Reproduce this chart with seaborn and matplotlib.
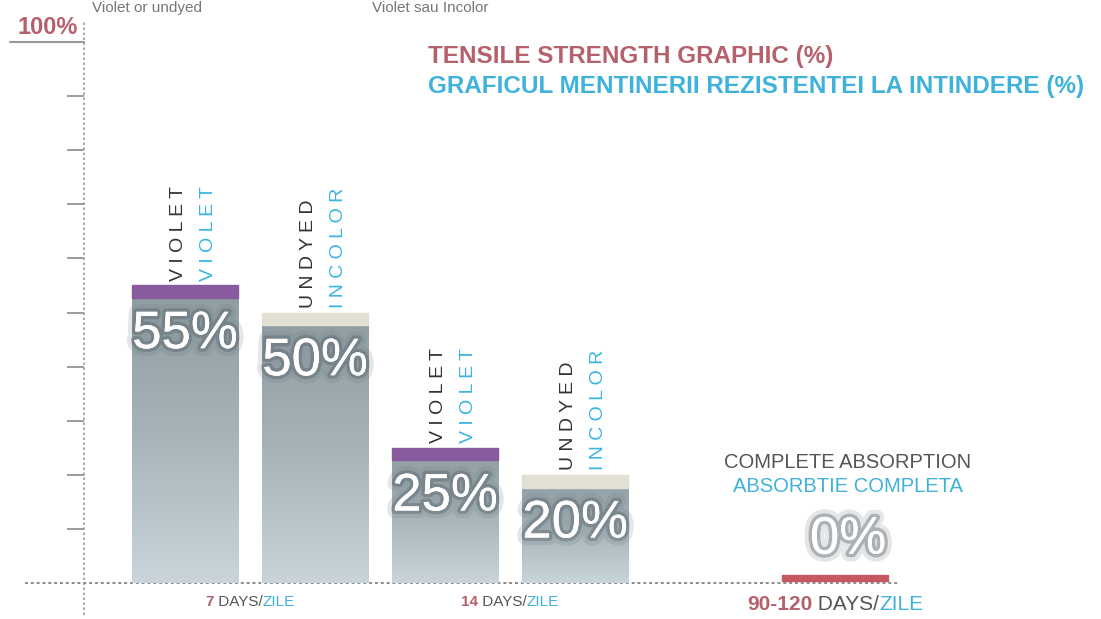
import numpy as np
import pandas as pd
import matplotlib
matplotlib.use("Agg")
import matplotlib.pyplot as plt
import matplotlib.patheffects as pe
from matplotlib.patches import Rectangle
from matplotlib.colors import LinearSegmentedColormap
import seaborn as sns

# Dados
bar_ids = ["7V", "7U", "14V", "14U", "90"]
groups = ["7", "7", "14", "14", "90-120"]
values = [55, 50, 25, 20, 0]
dye = ["violet", "undyed", "violet", "undyed", "none"]
order = ["7V", "7U", "14V", "14U", "gap", "90"]
group_labels = {"7": "7", "14": "14", "90-120": "90-120"}
names_en = {"violet": "VIOLET", "undyed": "UNDYED"}
names_ro = {"violet": "VIOLET", "undyed": "INCOLOR"}

RED = "#b5606b"
CYAN = "#3fb2dc"
GRAY = "#555555"
NARROW = ["Liberation Sans Narrow", "Liberation Sans", "DejaVu Sans"]

df = pd.DataFrame({"bar": bar_ids, "group": groups, "value": values, "dye": dye})

sns.set_style("white")
plt.rcParams["font.family"] = ["Liberation Sans", "DejaVu Sans"]

fig = plt.figure(figsize=(11.01, 6.19), dpi=100)
W, H = 1101, 619
ax = fig.add_axes([84 / W, (H - 583) / H, (900 - 84) / W, (583 - 42) / H])

sns.barplot(data=df, x="bar", y="value", order=order, color="#a9b6bc",
            width=0.82, ax=ax, errorbar=None, saturation=1)

ax.set_ylim(0, 100)
ax.set_xlim(-0.777, 5.5)
for s in ax.spines.values():
    s.set_visible(False)
ax.set_xticks([])
ax.set_xlabel("")
ax.set_ylabel("")
ax.set_yticks(range(10, 100, 10))
ax.set_yticklabels([])
ax.tick_params(axis="y", length=12, width=1.2, color="#8a8a8a", direction="out", left=True)

# eixo pontilhado e linha base
ax.plot([0, 0], [-0.06, 1.04], transform=ax.transAxes, clip_on=False,
        ls=(0, (1.5, 1.5)), color="#9a9a9a", lw=1.2)
ax.plot([-0.072, 1.0], [0, 0], transform=ax.transAxes, clip_on=False,
        ls=(0, (1.5, 1.5)), color="#8a8a8a", lw=1.4)
ax.plot([-0.091, 0], [1, 1], transform=ax.transAxes, clip_on=False,
        color="#9a9a9a", lw=1.5)
ax.text(-0.008, 1.005, "100%", transform=ax.transAxes, ha="right", va="bottom",
        color=RED, fontsize=17, fontweight="bold", family=NARROW)

# gradiente nas barras
cmap = LinearSegmentedColormap.from_list("g", ["#c9d5db", "#a6b3b9", "#8e9ca2"])
grad = np.linspace(0, 1, 256).reshape(-1, 1)
patches = sorted([p for p in ax.patches], key=lambda p: p.get_x())
centers = {}
for p in patches:
    cx = p.get_x() + p.get_width() / 2
    idx = int(round(cx))
    key = order[idx]
    centers[key] = (p.get_x(), p.get_width(), cx)
    h = p.get_height()
    if h > 0:
        im = ax.imshow(grad, cmap=cmap, aspect="auto", origin="lower",
                       extent=[p.get_x(), p.get_x() + p.get_width(), 0, h], zorder=2)
        im.set_clip_path(p)
        p.set_zorder(1)

ax.set_xlim(-0.777, 5.5)
ax.set_ylim(0, 100)

glow = [pe.withStroke(linewidth=11, foreground="#6b777c", alpha=0.18),
        pe.withStroke(linewidth=5, foreground="#56626a", alpha=0.4),
        pe.Normal()]

for b, v, d in zip(bar_ids, values, dye):
    x0, w, cx = centers[b]
    if d == "violet":
        ax.add_patch(Rectangle((x0, v - 2.3), w, 2.3, color="#8a5a9e", zorder=3))
    elif d == "undyed":
        ax.add_patch(Rectangle((x0, v - 2.4), w, 2.4, color="#e2e0d5", zorder=3))
    else:
        ax.add_patch(Rectangle((x0, 0.4), w, 1.0, color="#c55862", zorder=3))
    if d != "none":
        ax.text(cx - 0.05, v + 0.8, " ".join(names_en[d]), rotation=90, ha="center",
                va="bottom", color="#333333", fontsize=14, zorder=4)
        ax.text(cx + 0.18, v + 0.8, " ".join(names_ro[d]), rotation=90, ha="center",
                va="bottom", color="#3ab4e4", fontsize=14, zorder=4)
        ax.text(cx, v - 9, f"{v}%", ha="center", va="center", color="white",
                fontsize=38, family=NARROW, zorder=5, path_effects=glow)
    else:
        ax.text(cx + 0.1, v + 8, f"{v}%", ha="center", va="center", color="white",
                fontsize=38, family=NARROW, zorder=5, path_effects=glow)
        ax.text(cx + 0.1, v + 22.3, "COMPLETE ABSORPTION", ha="center", va="center",
                color=GRAY, fontsize=14.5, family=NARROW)
        ax.text(cx + 0.1, v + 17.8, "ABSORBTIE COMPLETA", ha="center", va="center",
                color=CYAN, fontsize=14.5, family=NARROW)

# rotulos do eixo x (multicolor)
fig.canvas.draw()
firsts = []
for g in ["7", "14", "90-120"]:
    xs = [centers[b][2] for b, gg in zip(bar_ids, groups) if gg == g]
    gx = np.mean(xs)
    big = g == "90-120"
    fs = 15 if big else 11
    t1 = ax.text(gx, -2.3, group_labels[g], ha="left", va="top", color=RED,
                 fontsize=fs, fontweight="bold", family=NARROW)
    t2 = ax.annotate(" DAYS/", xy=(1, 0), xycoords=t1, va="bottom", ha="left",
                     color=GRAY, fontsize=fs, family=NARROW)
    t3 = ax.annotate("ZILE", xy=(1, 0), xycoords=t2, va="bottom", ha="left",
                     color=CYAN, fontsize=fs, family=NARROW)
    firsts.append((t1, t2, t3, gx))

fig.canvas.draw()
r = fig.canvas.get_renderer()
for t1, t2, t3, gx in firsts:
    e1 = t1.get_window_extent(r)
    e3 = t3.get_window_extent(r)
    width_px = e3.x1 - e1.x0
    px_per_unit = ax.transData.transform((1, 0))[0] - ax.transData.transform((0, 0))[0]
    t1.set_x(gx - width_px / 2 / px_per_unit)

# titulo
fig.text(428 / W, 1 - 57 / H, "TENSILE STRENGTH GRAPHIC (%)", color=RED, fontsize=17.5,
         fontweight="bold", family=NARROW, ha="left", va="center")
fig.text(428 / W, 1 - 86 / H, "GRAFICUL MENTINERII REZISTENTEI LA INTINDERE (%)",
         color=CYAN, fontsize=17.5, fontweight="bold", family=NARROW, ha="left", va="center")

# texto do topo (no original aparece cortado)
fig.text(92 / W, 1 - 12 / H, "Violet or undyed", color="#777777", fontsize=11,
         ha="left", va="baseline")
fig.text(372 / W, 1 - 12 / H, "Violet sau Incolor", color="#777777", fontsize=11,
         ha="left", va="baseline")

fig.savefig("out.png", dpi=100)
